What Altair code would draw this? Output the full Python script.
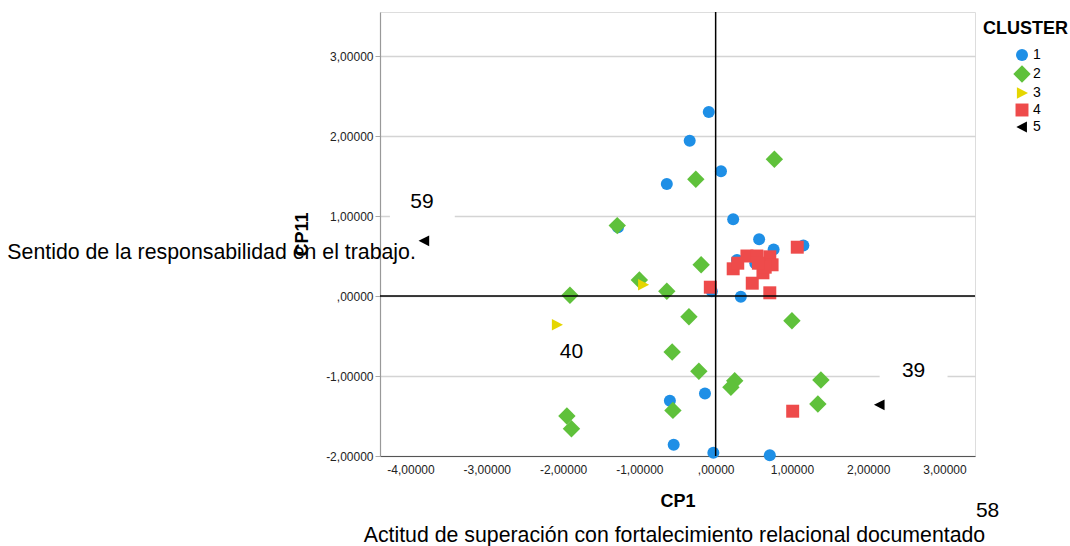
import altair as alt
import pandas as pd

# ---- data ----
c1_x = [-0.09, -0.34, -0.64, 0.07, 0.23, -1.28, 0.57, 0.76, 1.15, 0.28, 0.52, -0.05, 0.33, -0.60, -0.14, -0.55, -0.03, 0.71]
c1_y = [2.30, 1.94, 1.40, 1.56, 0.96, 0.86, 0.71, 0.58, 0.63, 0.45, 0.41, 0.06, -0.01, -1.31, -1.22, -1.86, -1.96, -1.99]
c2_x = [0.77, -0.26, -1.29, -0.19, -1.00, -1.91, -0.64, -0.35, 1.00, -0.57, -0.22, 0.25, 0.20, 1.38, 1.34, -0.56, -1.95, -1.89]
c2_y = [1.71, 1.46, 0.88, 0.39, 0.20, 0.01, 0.06, -0.26, -0.31, -0.70, -0.94, -1.06, -1.14, -1.05, -1.35, -1.43, -1.50, -1.66]
c3_x = [-0.95, -2.08]
c3_y = [0.14, -0.36]
c4_x = [1.07, -0.07, 0.48, 0.71, 0.23, 0.29, 0.41, 0.54, 0.71, 0.74, 0.62, 0.65, 0.56, 1.01]
c4_y = [0.61, 0.11, 0.16, 0.04, 0.34, 0.41, 0.50, 0.50, 0.49, 0.39, 0.29, 0.36, 0.41, -1.44]
c5_x = [-3.82, 2.15]
c5_y = [0.69, -1.36]

clusters = ["1", "2", "3", "4", "5"]
cluster_colors = ["#1E8FE6", "#5FC13B", "#E5D600", "#EE4B4B", "#000000"]
# symbol shapes (unit box [-1, 1] is scaled by the common symbol size)
cluster_shapes = [
    "circle",
    "M0,-1.45L1.45,0L0,1.45L-1.45,0Z",
    "M1.0,0L-0.85,-0.95L-0.85,0.95Z",
    "M-1.08,-1.08L1.08,-1.08L1.08,1.08L-1.08,1.08Z",
    "M-0.95,0L0.82,-0.9L0.82,0.9Z",
]
SYMBOL_SIZE = 144

x_ticks = [-4, -3, -2, -1, 0, 1, 2, 3]
y_ticks = [-2, -1, 0, 1, 2, 3]

# point labels / annotations (data coordinates)
lab_text = ["59", "40", "39", "58"]
lab_x = [-3.85, -1.89, 2.595, 3.565]
lab_y = [1.175, -0.70, -0.94, -2.69]

note_text = ["Sentido de la responsabilidad en el trabajo.",
             "Actitud de superación con fortalecimiento relacional documentado"]
note_x = [-3.93, -0.54]
note_y = [0.54, -3.0]

# white boxes behind the labels 59 and 39
box_x = [-4.27, 2.15]
box_x2 = [-3.42, 3.04]
box_y = [0.93, -1.11]
box_y2 = [1.33, -0.78]

rows = []
for cl, xs, ys in zip(clusters, [c1_x, c2_x, c3_x, c4_x, c5_x], [c1_y, c2_y, c3_y, c4_y, c5_y]):
    for a, b in zip(xs, ys):
        rows.append({"CP1": a, "CP11": b, "CLUSTER": cl})
pts = pd.DataFrame(rows)

labels = pd.DataFrame({"t": lab_text, "x": lab_x, "y": lab_y})
notes = pd.DataFrame({"t": note_text, "x": note_x, "y": note_y})
boxes = pd.DataFrame({"x": box_x, "x2": box_x2, "y": box_y, "y2": box_y2})
zero = pd.DataFrame({"v": [0]})

FONT = "Liberation Sans"
XDOM = [-4.4, 3.4]
YDOM = [-2.0, 3.55]

xscale = alt.Scale(domain=XDOM, nice=False, zero=False)
yscale = alt.Scale(domain=YDOM, nice=False, zero=False)

num_expr = "datum.value == 0 ? ',00000' : (datum.value < 0 ? '-' : '') + replace(format(abs(datum.value), '.5f'), '.', ',')"

x_axis = alt.Axis(values=x_ticks, labelExpr=num_expr, grid=False, ticks=False,
                  labelPadding=8, labelFontSize=12, labelColor="#222222", labelFont=FONT,
                  title="CP1", titleFontSize=18, titleFont=FONT, titleFontWeight="bold",
                  titleColor="#000000", titlePadding=17, domainColor="#555555", domainWidth=1.2)
y_axis = alt.Axis(values=y_ticks, labelExpr=num_expr, grid=True, gridColor="#D4D4D4", gridWidth=1.5,
                  ticks=True, tickSize=5, tickColor="#AAAAAA", labelPadding=2,
                  labelFontSize=12, labelColor="#222222", labelFont=FONT,
                  title="CP11", titleFontSize=18, titleFont=FONT, titleFontWeight="bold",
                  titleColor="#000000", titlePadding=14, domainColor="#999999", domainWidth=1.2)

rects = alt.Chart(boxes).mark_rect(color="white").encode(
    x=alt.X("x:Q", scale=xscale, axis=x_axis),
    x2="x2:Q",
    y=alt.Y("y:Q", scale=yscale, axis=y_axis),
    y2="y2:Q",
)

leg = alt.Legend(title=None, orient="none", legendX=635, legendY=36,
                 labelFontSize=14, labelFont=FONT, labelColor="#000000",
                 labelOffset=4, rowPadding=3, padding=0, symbolSize=SYMBOL_SIZE,
                 symbolStrokeWidth=0)

points = alt.Chart(pts).mark_point(filled=True, opacity=1, size=SYMBOL_SIZE, strokeWidth=0).encode(
    x=alt.X("CP1:Q", scale=xscale),
    y=alt.Y("CP11:Q", scale=yscale),
    color=alt.Color("CLUSTER:N", scale=alt.Scale(domain=clusters, range=cluster_colors), legend=leg),
    shape=alt.Shape("CLUSTER:N", scale=alt.Scale(domain=clusters, range=cluster_shapes), legend=leg),
)

vrule = alt.Chart(zero).mark_rule(color="#000000", strokeWidth=1.5).encode(
    x=alt.X("v:Q", scale=xscale))
hrule = alt.Chart(zero).mark_rule(color="#000000", strokeWidth=1.5).encode(
    y=alt.Y("v:Q", scale=yscale))

label_text = alt.Chart(labels).mark_text(fontSize=21, font=FONT, color="#000000",
                                         align="center", baseline="middle").encode(
    x=alt.X("x:Q", scale=xscale), y=alt.Y("y:Q", scale=yscale), text="t:N")

note_right = alt.Chart(notes.iloc[[0]]).mark_text(fontSize=21.3, font=FONT, color="#000000",
                                                  align="right", baseline="middle").encode(
    x=alt.X("x:Q", scale=xscale), y=alt.Y("y:Q", scale=yscale), text="t:N")
note_center = alt.Chart(notes.iloc[[1]]).mark_text(fontSize=21.3, font=FONT, color="#000000",
                                                   align="center", baseline="middle").encode(
    x=alt.X("x:Q", scale=xscale), y=alt.Y("y:Q", scale=yscale), text="t:N")

legend_title = alt.Chart(pd.DataFrame({"t": ["CLUSTER"]})).mark_text(
    fontSize=18, font=FONT, fontWeight="bold", color="#000000", align="left", baseline="middle"
).encode(x=alt.value(603), y=alt.value(17), text="t:N")

chart = alt.layer(rects, points, vrule, hrule, label_text, note_right, note_center, legend_title).properties(
    width=595, height=444,
    autosize=alt.AutoSizeParams(type="none"),
    padding={"left": 380, "top": 12, "right": 95, "bottom": 90},
).configure_view(stroke=None).configure(background="white")

chart.save("out.html", embed_options={"renderer": "svg", "actions": False})
